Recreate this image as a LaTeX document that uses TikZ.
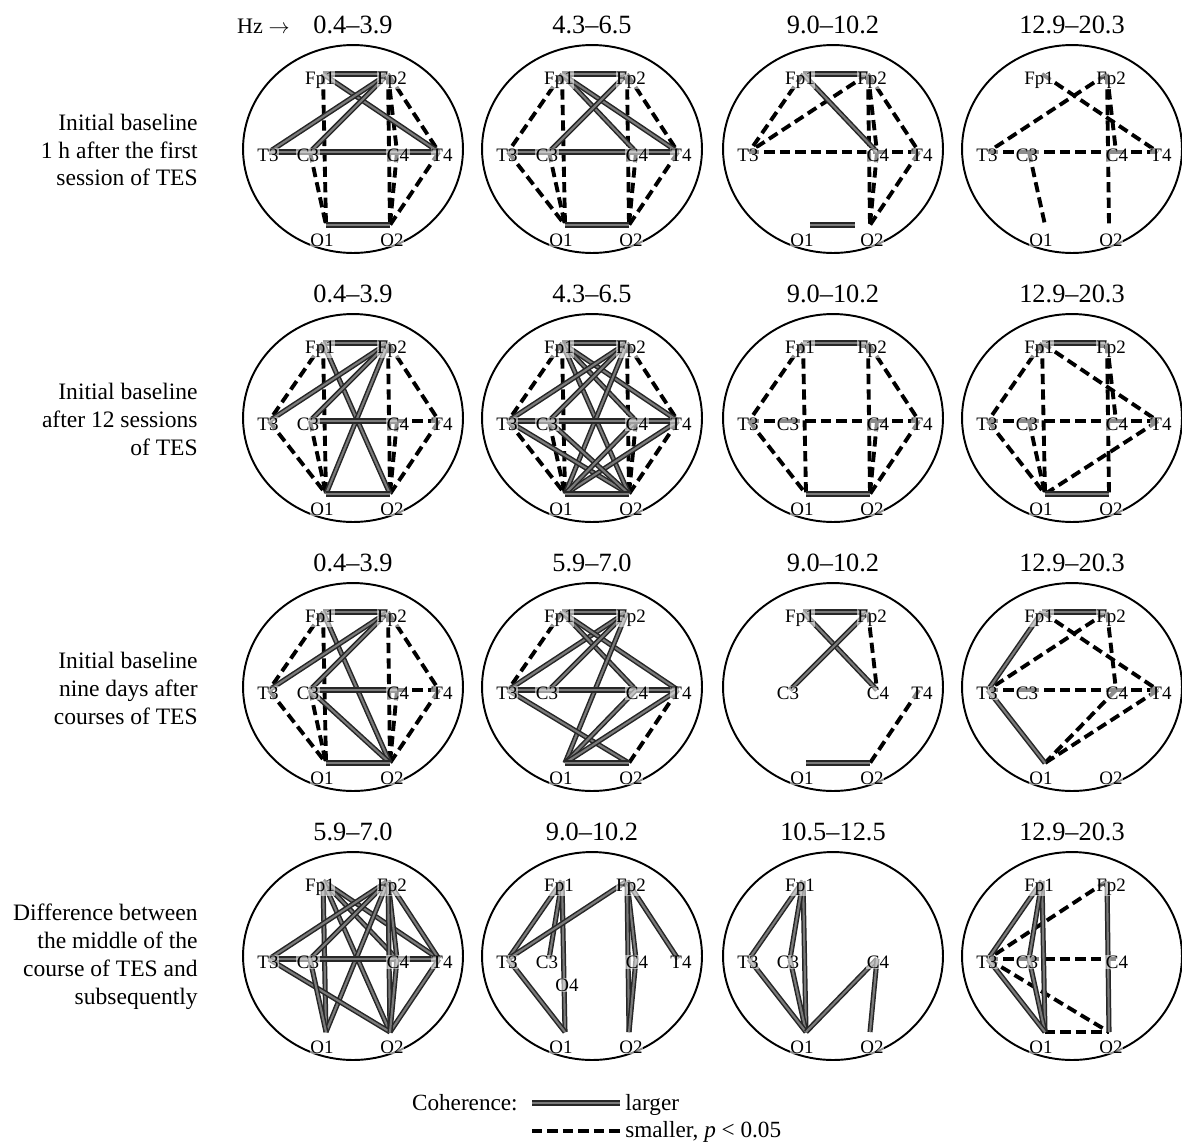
\documentclass[tikz,border=0pt]{standalone}
\usepackage{fontspec}
\setmainfont{Liberation Serif}
\usetikzlibrary{shapes.geometric,calc}
\tikzset{
 head/.style={draw, ellipse, line width=1.1pt, minimum width=4.4cm, minimum height=4.16cm, inner sep=0pt},
 sol/.style={draw=black!85, line width=0.85pt, double=black!52, double distance=1.2pt},
 dsh/.style={draw=black, line width=2.2pt, dash pattern=on 5.8pt off 3pt},
 el/.style={font=\fontsize{10.8}{12}\selectfont, inner sep=0.3pt, anchor=base, fill=white, fill opacity=0.55, text opacity=1},
 ttl/.style={font=\fontsize{15}{18}\selectfont, inner sep=0pt, anchor=base},
 rowlab/.style={font=\fontsize{13.4}{15.9}\selectfont, align=right, anchor=east, inner sep=0pt},
 leg/.style={font=\fontsize{13.2}{15.9}\selectfont, inner sep=0pt, anchor=base west},
}
\newcommand\setoff[3]{\expandafter\def\csname lx#1\endcsname{#2}\expandafter\def\csname ly#1\endcsname{#3}}
\setoff{Fp1}{-33}{-64.5}
\setoff{Fp2}{39}{-64.5}
\setoff{T3}{-85}{12.5}
\setoff{C3}{-45}{12.5}
\setoff{C4}{45}{12.5}
\setoff{T4}{89}{12.5}
\setoff{O1}{-31}{97.5}
\setoff{O2}{39}{97.5}
\setoff{O4}{-25}{35.5}
\newcommand\panel[4]{%
 \node[head] (#1) at (#2,#3) {};
 \node[ttl] (#1-t) at (#2,#3-115.5) {#4};
 \coordinate (#1-Fp1) at (#2-30,#3-75);
 \coordinate (#1-Fp2) at (#2+35,#3-75);
 \coordinate (#1-T3) at (#2-84,#3+3);
 \coordinate (#1-C3) at (#2-43,#3+3);
 \coordinate (#1-C4) at (#2+44,#3+3);
 \coordinate (#1-T4) at (#2+86,#3+3);
 \coordinate (#1-O1) at (#2-27,#3+76);
 \coordinate (#1-O2) at (#2+37,#3+76);
 \coordinate (#1-O4) at (#2-27,#3+29);
}
\newcommand\labs[2]{\foreach \e in {#2}{\node[el] (#1-\e-l) at ($(#1)+(\csname lx\e\endcsname,\csname ly\e\endcsname)$) {\e};}}
\newcommand\Sl[2]{\foreach \a/\b in {#2}{\draw[sol] (#1-\a) -- (#1-\b);}}
\newcommand\Dl[2]{\foreach \a/\b in {#2}{\draw[dsh] (#1-\a) -- (#1-\b);}}
\begin{document}
\begin{tikzpicture}[x=0.02cm,y=-0.02cm]
\useasboundingbox (0,0) rectangle (1182,1144);
% row labels
\node[rowlab] (r1) at (198,150) {Initial baseline\\1 h after the first\\session of TES};
\node[rowlab] (r2) at (198,419) {Initial baseline\\after 12 sessions\\of TES};
\node[rowlab] (r3) at (198,688) {Initial baseline\\nine days after\\courses of TES};
\node[rowlab] (r4) at (198,957) {Difference between\\the middle of the\\course of TES and\\subsequently};
\node[font=\fontsize{12.6}{15}\selectfont, inner sep=0pt, anchor=base east] (hz) at (290,33.5) {Hz $\rightarrow$};
% ---------- row 1
\panel{A1}{353}{149}{0.4--3.9}
\Dl{A1}{Fp1/O1, C3/O1, Fp2/O2, C4/O2, Fp2/C4, Fp2/T4, T4/O2}
\Sl{A1}{Fp1/Fp2, Fp1/T4, Fp2/T3, Fp2/C3, T3/C3, C3/C4, C4/T4, O1/O2}
\labs{A1}{Fp1,Fp2,T3,C3,C4,T4,O1,O2}
\panel{A2}{592}{149}{4.3--6.5}
\Dl{A2}{Fp1/T3, Fp1/O1, C3/O1, Fp2/O2, C4/O2, Fp2/T4, T3/O1, T4/O2}
\Sl{A2}{Fp1/Fp2, Fp1/C4, Fp1/T4, Fp2/C3, T3/C3, C3/C4, C4/T4, O1/O2}
\labs{A2}{Fp1,Fp2,T3,C3,C4,T4,O1,O2}
\panel{A3}{833}{149}{9.0--10.2}
\coordinate (A3-Oa) at (810,225);
\coordinate (A3-Ob) at (855,225);
\Dl{A3}{Fp1/T3, Fp2/T3, T3/C4, C4/T4, Fp2/O2, Fp2/C4, C4/O2, Fp2/T4, T4/O2}
\Sl{A3}{Fp1/Fp2, Fp1/C4, Oa/Ob}
\labs{A3}{Fp1,Fp2,T3,C4,T4,O1,O2}
\panel{A4}{1072}{149}{12.9--20.3}
\Dl{A4}{Fp1/T4, Fp2/T3, Fp2/O2, Fp2/C4, T3/C3, C3/C4, C4/T4, C3/O1}
\labs{A4}{Fp1,Fp2,T3,C3,C4,T4,O1,O2}
% ---------- row 2
\panel{B1}{353}{418}{0.4--3.9}
\Dl{B1}{Fp1/T3, Fp1/O1, C3/O1, Fp2/O2, C4/O2, Fp2/T4, T3/O1, T4/O2, C4/T4}
\Sl{B1}{Fp1/Fp2, Fp1/O2, Fp2/T3, Fp2/C3, Fp2/O1, C3/C4, O1/O2}
\labs{B1}{Fp1,Fp2,T3,C3,C4,T4,O1,O2}
\panel{B2}{592}{418}{4.3--6.5}
\Dl{B2}{Fp1/T3, Fp1/O1, C3/O1, Fp2/O2, C4/O2, Fp2/T4, T3/O1, T4/O2}
\Sl{B2}{Fp1/Fp2, Fp1/C4, Fp1/T4, Fp1/O2, Fp2/T3, Fp2/C3, Fp2/O1, T3/O2, T4/O1, C3/O2, C4/O1, T3/C3, C3/C4, C4/T4, O1/O2}
\labs{B2}{Fp1,Fp2,T3,C3,C4,T4,O1,O2}
\panel{B3}{833}{418}{9.0--10.2}
\Dl{B3}{Fp1/T3, Fp1/O1, Fp2/O2, C4/O2, Fp2/T4, T3/O1, T4/O2, T3/C3, C3/C4, C4/T4}
\Sl{B3}{Fp1/Fp2, O1/O2}
\labs{B3}{Fp1,Fp2,T3,C3,C4,T4,O1,O2}
\panel{B4}{1072}{418}{12.9--20.3}
\Dl{B4}{Fp1/T3, Fp1/O1, C3/O1, Fp1/T4, Fp2/O2, Fp2/C4, T3/C3, C3/C4, C4/T4, T4/O1, T3/O1}
\Sl{B4}{Fp1/Fp2, O1/O2}
\labs{B4}{Fp1,Fp2,T3,C3,C4,T4,O1,O2}
% ---------- row 3
\panel{C1}{353}{687}{0.4--3.9}
\Dl{C1}{Fp1/T3, Fp1/O1, C3/O1, Fp2/O2, C4/O2, Fp2/T4, T3/O1, T4/O2, C4/T4}
\Sl{C1}{Fp1/Fp2, Fp1/O2, Fp2/T3, Fp2/C3, C3/C4, C3/O2, O1/O2}
\labs{C1}{Fp1,Fp2,T3,C3,C4,T4,O1,O2}
\panel{C2}{592}{687}{5.9--7.0}
\Dl{C2}{Fp1/T3, T4/O2}
\Sl{C2}{Fp1/Fp2, Fp2/T3, Fp1/C4, Fp1/T4, Fp2/C3, Fp2/O1, T3/C3, C3/C4, C4/T4, T3/O2, C4/O1, T4/O1, O1/O2}
\labs{C2}{Fp1,Fp2,T3,C3,C4,T4,O1,O2}
\panel{C3}{833}{687}{9.0--10.2}
\Dl{C3}{Fp2/C4, T4/O2}
\Sl{C3}{Fp1/Fp2, Fp1/C4, Fp2/C3, O1/O2}
\labs{C3}{Fp1,Fp2,C3,C4,T4,O1,O2}
\panel{C4}{1072}{687}{12.9--20.3}
\Dl{C4}{Fp2/T3, Fp1/T4, Fp2/C4, T3/C3, C3/C4, C4/T4, C4/O1, T4/O1}
\Sl{C4}{Fp1/Fp2, Fp1/T3, T3/O1}
\labs{C4}{Fp1,Fp2,T3,C3,C4,T4,O1,O2}
% ---------- row 4
\panel{D1}{353}{956}{5.9--7.0}
\Sl{D1}{Fp1/O1, Fp1/C4, Fp1/T4, Fp1/O2, Fp2/T3, Fp2/C3, Fp2/O1, Fp2/C4, Fp2/O2, Fp2/T4, T3/C3, C3/C4, C4/T4, T3/O2, C3/O1, T4/O2, C4/O2}
\labs{D1}{Fp1,Fp2,T3,C3,C4,T4,O1,O2}
\panel{D2}{592}{956}{9.0--10.2}
\Sl{D2}{Fp1/T3, Fp1/C3, Fp1/O1, Fp2/T3, T3/O1, Fp2/C4, Fp2/O2, C4/O2, Fp2/T4}
\labs{D2}{Fp1,Fp2,T3,C3,O4,C4,T4,O1,O2}
\panel{D3}{833}{956}{10.5--12.5}
\Sl{D3}{Fp1/T3, Fp1/O1, Fp1/C3, C3/O1, T3/O1, O1/C4, C4/O2}
\labs{D3}{Fp1,T3,C3,C4,O1,O2}
\panel{D4}{1072}{956}{12.9--20.3}
\Dl{D4}{Fp2/T3, T3/C3, C3/C4, T3/O2, O1/O2}
\Sl{D4}{Fp1/T3, Fp1/O1, Fp1/C3, C3/O1, Fp2/O2, T3/O1}
\labs{D4}{Fp1,Fp2,T3,C3,C4,O1,O2}
% ---------- legend
\node[leg, anchor=base east] (lg) at (518,1110) {Coherence:};
\coordinate (ls1) at (532,1103);
\coordinate (ls2) at (620,1103);
\coordinate (ld1) at (532,1131);
\coordinate (ld2) at (620,1131);
\draw[sol] (ls1) -- (ls2);
\draw[dsh] (ld1) -- (ld2);
\node[leg] (lgl) at (625,1110) {larger};
\node[leg] (lgs) at (625,1137) {smaller, \textit{p} < 0.05};
\end{tikzpicture}
\end{document}
